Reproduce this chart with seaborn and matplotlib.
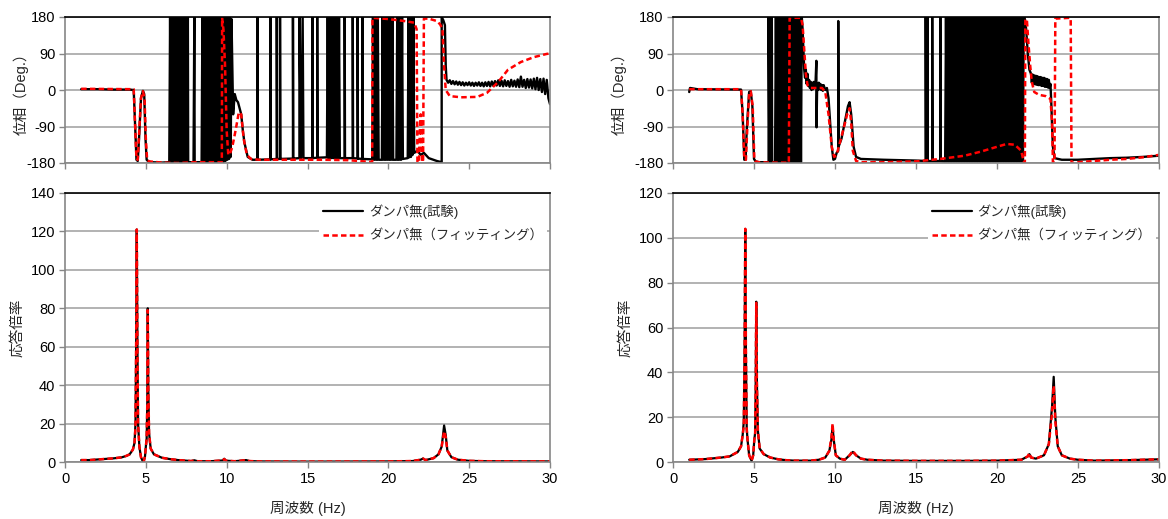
import numpy as np
import pandas as pd
import matplotlib
matplotlib.use("Agg")
import matplotlib.pyplot as plt
import seaborn as sns

# ---------------- data ----------------
# Left: phase, test (black)
L_phase_test = [
    (1.0, 2), (2.0, 2), (3.0, 1), (4.0, 1), (4.25, 0), (4.35, -100), (4.42, -172), (4.5, -175),
    (4.58, -120), (4.7, -20), (4.82, -2), (4.9, -10), (4.98, -120), (5.05, -172), (5.15, -176),
    (5.3, -178), (6.0, -179), (6.45, -178),
    (6.5, 180), (6.55, -178), (6.6, 180), (6.65, -178), (6.7, 180), (6.75, -178), (6.8, 180),
    (6.85, -178), (6.9, 180), (6.95, -178), (7.0, 180), (7.05, -178), (7.1, 180), (7.15, -178),
    (7.2, 180), (7.25, -178), (7.3, 180), (7.35, -178), (7.4, 180), (7.45, -178), (7.5, 180),
    (7.55, -178), (7.6, 180), (7.62, -178),
    (7.95, -178), (8.0, 180), (8.02, -178), (8.45, -178),
    (8.5, 180), (8.55, -178), (8.6, 180), (8.65, -178), (8.7, 180), (8.75, -178), (8.8, 180),
    (8.85, -178), (8.9, 180), (8.95, -178), (9.0, 180), (9.05, -178), (9.1, 180), (9.15, -178),
    (9.2, 180), (9.25, -178), (9.3, 180), (9.35, -178), (9.4, 180), (9.45, -178), (9.5, 180),
    (9.55, -178), (9.6, 180), (9.65, -178), (9.7, 180), (9.75, -178), (9.8, 180),
    (9.85, -176), (9.9, 180), (9.95, -174), (10.0, 180), (10.05, -172), (10.1, 180),
    (10.15, -170), (10.2, 178), (10.25, -165), (10.3, 175), (10.4, -60),
    (10.5, -10), (10.6, -25), (10.7, -30), (10.8, -45), (10.9, -60), (11.0, -100),
    (11.1, -130), (11.3, -165), (11.6, -172), (11.9, -172), (11.9, 180), (11.92, -172),
    (12.7, -171), (12.7, 180), (12.72, -171), (13.1, -170), (13.1, 180), (13.12, -170),
    (13.3, -170), (13.3, 180), (13.32, -170), (14.1, -169), (14.1, 180), (14.12, -169),
    (14.5, -168), (14.5, 180), (14.6, -168), (14.7, 180), (14.75, -168),
    (15.3, -168), (15.3, 180), (15.32, -168), (15.6, -167), (15.6, 180), (15.62, -167),
    (16.2, -166), (16.25, 180), (16.3, -168), (16.35, 180), (16.4, -168), (16.45, 180),
    (16.5, -168), (16.55, 180), (16.6, -168), (16.65, 180), (16.7, -168), (16.75, 180),
    (16.8, -168), (16.85, 180), (16.9, -168), (16.95, 180), (17.0, -168),
    (17.3, -168), (17.3, 180), (17.32, -168),
    (17.8, -168), (17.8, 180), (17.82, -168), (18.1, -169), (18.1, 180), (18.12, -169),
    (18.4, -170), (18.4, 180), (18.42, -170), (19.0, -171), (19.05, 180), (19.1, -172),
    (19.15, 180), (19.2, -172), (19.25, 180), (19.3, -172), (19.35, 180), (19.4, -172),
    (19.6, -172), (19.65, 180), (19.7, -172), (19.75, 180), (19.8, -172), (19.85, 180),
    (19.9, -172), (19.95, 180), (20.0, -172), (20.05, 180), (20.1, -172), (20.15, 180),
    (20.2, -172), (20.25, 180), (20.3, -172), (20.5, -172),
    (20.55, 180), (20.6, -172), (20.65, 180), (20.7, -172), (20.75, 180), (20.8, -172),
    (20.85, 180), (20.9, -170), (21.2, -168), (21.25, 180), (21.3, -166), (21.35, 180),
    (21.4, -165), (21.45, 180), (21.5, -160), (21.55, 180), (21.6, -155), (21.8, -150),
    (22.0, -160), (22.2, -155), (22.5, -168), (23.0, -175), (23.3, -178), (23.3, 180),
    (23.4, 172), (23.5, 160),
    (23.55, 60), (23.6, 25), (23.7, 18), (23.8, 24), (23.9, 15), (24.0, 22), (24.1, 14),
    (24.2, 21), (24.3, 13), (24.4, 20), (24.5, 12), (24.6, 19), (24.7, 11), (24.8, 18),
    (24.9, 12), (25.0, 19), (25.1, 11), (25.2, 18), (25.3, 10), (25.4, 18), (25.5, 11),
    (25.6, 19), (25.7, 10), (25.8, 18), (25.9, 9), (26.0, 19), (26.1, 10), (26.2, 20),
    (26.3, 9), (26.4, 21), (26.5, 10), (26.6, 22), (26.7, 11), (26.8, 24), (26.9, 10),
    (27.0, 23), (27.1, 9), (27.2, 24), (27.3, 10), (27.4, 22), (27.5, 8), (27.6, 25),
    (27.7, 9), (27.8, 23), (27.9, 8), (28.0, 26), (28.1, 7), (28.2, 33), (28.3, 8),
    (28.4, 25), (28.5, 5), (28.6, 27), (28.7, 6), (28.8, 26), (28.9, 4), (29.0, 28),
    (29.1, 2), (29.2, 30), (29.3, 0), (29.4, 27), (29.5, -5), (29.6, 28), (29.7, -10),
    (29.8, 25), (29.9, -20), (30.0, -35),
]
# Left: phase, fitting (red)
L_phase_fit = [
    (1.0, 3), (4.25, 2), (4.35, -100), (4.42, -170), (4.5, -172), (4.58, -110), (4.7, -20),
    (4.82, -3), (4.92, -20), (5.0, -120), (5.08, -172), (5.2, -176), (6.0, -179), (7.0, -180),
    (8.0, -178), (9.0, -178), (9.7, -178), (9.72, 178), (9.8, 150), (9.9, 60), (10.0, -100),
    (10.1, -160), (10.2, -158), (10.35, -140), (10.55, -100), (10.75, -55), (10.9, -60),
    (11.05, -120), (11.25, -160), (11.5, -170), (12.0, -172), (14.0, -172), (16.0, -172),
    (17.5, -173), (18.5, -176), (19.0, -178), (19.02, 178), (20.0, 175), (21.0, 170),
    (21.6, 166), (21.75, 150), (21.8, -178), (21.9, -178), (21.95, -100), (22.0, -60),
    (22.05, -110), (22.1, -178), (22.15, -175), (22.2, 176), (22.5, 176), (23.0, 170),
    (23.2, 162), (23.35, 150), (23.45, 60), (23.55, 0), (23.8, -15), (24.5, -18),
    (25.5, -17), (26.1, -7), (26.8, 20), (27.4, 50), (28.2, 69), (29.0, 81), (29.8, 89),
    (30.0, 90),
]
# Right: phase, test (black)
R_phase_test = [
    (1.0, -5), (1.05, 5), (1.5, 2), (4.2, 1), (4.3, -60), (4.4, -172), (4.48, -172),
    (4.55, -100), (4.7, -5), (4.8, -3), (4.9, -40), (5.0, -170), (5.1, -176), (5.3, -178),
    (5.9, -178), (5.9, 180), (5.95, -178), (6.0, 180), (6.05, -178), (6.1, 180),
    (6.12, -178), (6.3, -178),
    (6.35, 180), (6.4, -178), (6.45, 180), (6.5, -178), (6.55, 180), (6.6, -178),
    (6.65, 180), (6.7, -178), (6.75, 180), (6.8, -178), (6.85, 180), (6.9, -178),
    (6.95, 180), (7.0, -178), (7.05, 180), (7.1, -178), (7.15, 180), (7.2, -178),
    (7.25, 180), (7.3, -178), (7.35, 180), (7.4, -178), (7.45, 180), (7.5, -178),
    (7.55, 180), (7.6, -178), (7.65, 180), (7.7, -178), (7.75, 180), (7.8, -178),
    (7.85, 180), (7.9, -178), (7.95, 180), (8.0, 150),
    (8.05, 100), (8.1, 50), (8.15, 30), (8.2, 50), (8.25, 15), (8.3, 40), (8.35, 10),
    (8.4, 25), (8.45, 5), (8.5, 20), (8.55, 0), (8.6, 18), (8.65, 2), (8.7, 20), (8.75, 5),
    (8.8, 20), (8.85, 72), (8.86, -92), (8.9, 15), (8.95, 0), (9.0, 18), (9.05, 2),
    (9.1, 15), (9.15, 0), (9.2, 12), (9.25, -2), (9.3, 12), (9.4, 0), (9.5, 5), (9.6, -20),
    (9.7, -80), (9.8, -140), (9.9, -172), (10.0, -170), (10.1, -155), (10.2, -150),
    (10.2, 170), (10.22, -140), (10.4, -120), (10.6, -80), (10.8, -40), (10.9, -30),
    (11.0, -60), (11.15, -140), (11.3, -165), (11.6, -170), (13.0, -172), (15.0, -174),
    (15.6, -175), (15.6, 180), (15.62, -175), (15.7, -175), (15.7, 180), (15.72, -175),
    (16.0, -175), (16.0, 180), (16.02, -175), (16.5, -175), (16.5, 180), (16.52, -175),
    (16.8, -176), (16.85, 180), (16.9, -176), (16.95, 180), (17.0, -176), (17.05, 180),
    (17.1, -176), (17.15, 180), (17.2, -176), (17.25, 180), (17.3, -176), (17.35, 180),
    (17.4, -176), (17.45, 180), (17.5, -176), (17.55, 180), (17.6, -176), (17.65, 180),
    (17.7, -176), (17.75, 180), (17.8, -176), (17.85, 180), (17.9, -176), (17.95, 180),
    (18.0, -176), (18.05, 180), (18.1, -176), (18.15, 180), (18.2, -176), (18.25, 180),
    (18.3, -176), (18.35, 180), (18.4, -176), (18.45, 180), (18.5, -176), (18.55, 180),
    (18.6, -176), (18.65, 180), (18.7, -176), (18.75, 180), (18.8, -176), (18.85, 180),
    (18.9, -176), (18.95, 180), (19.0, -176), (19.05, 180), (19.1, -176), (19.15, 180),
    (19.2, -176), (19.25, 180), (19.3, -176), (19.35, 180), (19.4, -176), (19.45, 180),
    (19.5, -176), (19.55, 180), (19.6, -176), (19.65, 180), (19.7, -176), (19.75, 180),
    (19.8, -176), (19.85, 180), (19.9, -176), (19.95, 180), (20.0, -176), (20.05, 180),
    (20.1, -176), (20.15, 180), (20.2, -176), (20.25, 180), (20.3, -176), (20.35, 180),
    (20.4, -176), (20.45, 180), (20.5, -176), (20.55, 180), (20.6, -176), (20.65, 180),
    (20.7, -176), (20.75, 180), (20.8, -176), (20.85, 180), (20.9, -176), (20.95, 180),
    (21.0, -176), (21.05, 180), (21.1, -176), (21.15, 180), (21.2, -176), (21.25, 180),
    (21.3, -176), (21.35, 180), (21.4, -176), (21.45, 178), (21.5, -176), (21.55, 178),
    (21.6, -176), (21.65, 180), (21.7, 180), (21.8, 150), (21.9, 90), (22.0, 50),
    (22.1, 40),
    (22.15, 18), (22.2, 38), (22.25, 15), (22.3, 36), (22.35, 14), (22.4, 35), (22.45, 13),
    (22.5, 34), (22.55, 12), (22.6, 32), (22.65, 12), (22.7, 32), (22.75, 10), (22.8, 30),
    (22.85, 10), (22.9, 30), (22.95, 8), (23.0, 28), (23.05, 8), (23.1, 27), (23.15, 6),
    (23.2, 25), (23.25, 5), (23.3, 15), (23.35, -30), (23.4, -90), (23.45, -140),
    (23.55, -168), (24.0, -172), (25.0, -172), (26.0, -170), (27.0, -168), (28.0, -167),
    (29.0, -165), (30.0, -162),
]
# Right: phase, fitting (red)
R_phase_fit = [
    (1.0, 2), (4.2, 2), (4.3, -60), (4.4, -170), (4.5, -172), (4.58, -100), (4.7, -8),
    (4.8, -3), (4.92, -40), (5.02, -170), (5.1, -176), (5.3, -178), (6.0, -179),
    (7.15, -179), (7.2, 178), (7.9, 178), (8.0, 160), (8.1, 100), (8.2, 40), (8.3, 12),
    (8.5, 5), (9.2, 5), (9.4, -5), (9.6, -60), (9.8, -140), (9.95, -165), (10.1, -160),
    (10.3, -130), (10.5, -100), (10.75, -60), (10.9, -45), (11.0, -80), (11.1, -150),
    (11.3, -175), (11.6, -178), (13.0, -178), (15.0, -176), (16.5, -170), (18.0, -162),
    (19.0, -152), (20.0, -140), (20.6, -133), (21.1, -135), (21.5, -150), (21.65, -178),
    (21.72, -180), (21.75, 175), (21.85, 170), (21.95, 110), (22.05, 60), (22.15, 20),
    (22.3, -5), (22.6, -12), (23.0, -15), (23.3, -22), (23.4, -80), (23.45, -178),
    (23.55, -178), (23.6, 176), (24.5, 178), (24.55, 175), (24.6, -180), (25.0, -178),
    (26.0, -175), (27.0, -172), (28.0, -170), (29.0, -166), (30.0, -160),
]
# Left: response ratio
L_amp_test = [
    (1.0, 1.0), (1.5, 1.0), (2.0, 1.3), (2.5, 1.6), (3.0, 1.9), (3.5, 2.4), (3.8, 3.2),
    (4.0, 4.0), (4.2, 6.5), (4.3, 10), (4.36, 20), (4.4, 60), (4.44, 121), (4.48, 60),
    (4.52, 20), (4.56, 14), (4.6, 8), (4.7, 2.5), (4.8, 0.6), (4.87, 0.3), (4.95, 3),
    (5.0, 8), (5.05, 12), (5.09, 30), (5.12, 80), (5.15, 40), (5.2, 15), (5.3, 7), (5.5, 4),
    (6.0, 2.2), (6.5, 1.5), (7.0, 1.0), (7.8, 0.5), (8.0, 0.9), (8.2, 0.4), (9.0, 0.4),
    (9.75, 0.8), (9.85, 1.7), (9.95, 0.7), (10.5, 0.4), (11.0, 0.8), (11.2, 1.0),
    (11.4, 0.5), (12.0, 0.3), (15.0, 0.2), (20.0, 0.3), (21.5, 0.5), (22.0, 1.2),
    (22.15, 1.8), (22.3, 1.0), (22.8, 2.0), (23.1, 4), (23.3, 8), (23.45, 19), (23.55, 14),
    (23.65, 6), (23.9, 2.5), (24.3, 1.2), (25.0, 0.6), (26.0, 0.4), (30.0, 0.3),
]
L_amp_fit = [
    (1.0, 1.0), (1.5, 1.0), (2.0, 1.3), (2.5, 1.6), (3.0, 1.9), (3.5, 2.4), (3.8, 3.2),
    (4.0, 4.0), (4.2, 6.5), (4.3, 10), (4.36, 18), (4.4, 60), (4.44, 121), (4.48, 60),
    (4.52, 20), (4.56, 14), (4.6, 8), (4.7, 2.5), (4.8, 0.6), (4.87, 0.3), (4.95, 3),
    (5.0, 8), (5.05, 12), (5.09, 30), (5.12, 79), (5.15, 40), (5.2, 15), (5.3, 7), (5.5, 4),
    (6.0, 2.2), (6.5, 1.5), (7.0, 1.0), (7.8, 0.5), (8.0, 0.8), (8.2, 0.4), (9.0, 0.4),
    (9.75, 0.8), (9.85, 1.5), (9.95, 0.7), (10.5, 0.4), (11.0, 0.8), (11.2, 1.0),
    (11.4, 0.5), (12.0, 0.3), (15.0, 0.2), (20.0, 0.3), (21.5, 0.5), (22.0, 1.2),
    (22.15, 1.8), (22.3, 1.0), (22.8, 2.0), (23.1, 4), (23.3, 8), (23.45, 16), (23.55, 13),
    (23.65, 6), (23.9, 2.5), (24.3, 1.2), (25.0, 0.6), (26.0, 0.4), (30.0, 0.3),
]
# Right: response ratio
R_amp_test = [
    (1.0, 1.0), (2.0, 1.3), (3.0, 2.0), (3.5, 2.5), (4.0, 4.5), (4.2, 7), (4.3, 12),
    (4.37, 18), (4.42, 50), (4.46, 104), (4.5, 50), (4.55, 15), (4.6, 10), (4.7, 3),
    (4.85, 0.5), (4.95, 3), (5.02, 10), (5.07, 13), (5.1, 30), (5.14, 71.5), (5.18, 35),
    (5.24, 14), (5.35, 6), (5.6, 3.5), (6.0, 2.0), (6.5, 1.2), (7.0, 0.8), (7.5, 0.6),
    (8.5, 0.6), (9.0, 1.0), (9.4, 2.0), (9.65, 5), (9.78, 10), (9.85, 16), (9.92, 10),
    (10.05, 3), (10.3, 1.5), (10.6, 1.0), (10.9, 3), (11.1, 4.5), (11.3, 3), (11.6, 1.5),
    (12.0, 1.0), (13.0, 0.6), (15.0, 0.5), (18.0, 0.5), (20.0, 0.6), (21.5, 1.0),
    (21.9, 2.5), (22.0, 3.5), (22.1, 2.0), (22.4, 1.5), (22.9, 3), (23.2, 8), (23.4, 25),
    (23.5, 38), (23.6, 20), (23.75, 7), (24.0, 3), (24.5, 1.5), (25.0, 1.0), (26.0, 0.6),
    (28.0, 0.8), (30.0, 1.2),
]
R_amp_fit = [
    (1.0, 1.0), (2.0, 1.3), (3.0, 2.0), (3.5, 2.5), (4.0, 4.5), (4.2, 7), (4.3, 12),
    (4.37, 16), (4.42, 50), (4.46, 104), (4.5, 50), (4.55, 15), (4.6, 10), (4.7, 3),
    (4.85, 0.5), (4.95, 3), (5.02, 10), (5.07, 12), (5.1, 30), (5.14, 71), (5.18, 35),
    (5.24, 14), (5.35, 6), (5.6, 3.5), (6.0, 2.0), (6.5, 1.2), (7.0, 0.8), (7.5, 0.6),
    (8.5, 0.6), (9.0, 1.0), (9.4, 2.0), (9.65, 5), (9.78, 11), (9.85, 17), (9.92, 10),
    (10.05, 3), (10.3, 1.5), (10.6, 1.0), (10.9, 3), (11.1, 5), (11.3, 3), (11.6, 1.5),
    (12.0, 1.0), (13.0, 0.6), (15.0, 0.5), (18.0, 0.5), (20.0, 0.6), (21.5, 1.0),
    (21.9, 2.5), (22.0, 4.0), (22.1, 2.0), (22.4, 1.5), (22.9, 3), (23.2, 8), (23.4, 22),
    (23.5, 34), (23.6, 18), (23.75, 7), (24.0, 3), (24.5, 1.5), (25.0, 1.0), (26.0, 0.6),
    (28.0, 0.8), (30.0, 1.2),
]

legend_labels = ["ダンパ無(試験)", "ダンパ無（フィッティング）"]
phase_ticks = [-180, -90, 0, 90, 180]
freq_ticks = [0, 5, 10, 15, 20, 25, 30]
amp_ticks_left = [0, 20, 40, 60, 80, 100, 120, 140]
amp_ticks_right = [0, 20, 40, 60, 80, 100, 120]
phase_label = "位相（Deg.）"
amp_label = "応答倍率"
freq_label = "周波数 (Hz)"

# ---------------- styling ----------------
sns.set_theme(style="white")
plt.rcParams["font.family"] = ["Liberation Sans", "Noto Sans CJK JP", "DejaVu Sans"]
plt.rcParams["axes.unicode_minus"] = False
plt.rcParams["path.simplify"] = False

W, H = 1168, 519
fig = plt.figure(figsize=(W / 100, H / 100), dpi=100)

def ax_at(x0, y0, x1, y1):
    return fig.add_axes([x0 / W, 1 - y1 / H, (x1 - x0) / W, (y1 - y0) / H])

GRID = "#a6a6a6"
SPINE = "#868686"
RED_DASH = (2.2, 1.3)

def df_of(pairs):
    return pd.DataFrame(pairs, columns=["f", "v"])

def draw(ax, test, fit, blk_lw, red_lw):
    sns.lineplot(data=df_of(test), x="f", y="v", ax=ax, color="black", lw=blk_lw,
                 estimator=None, sort=False, label=legend_labels[0])
    sns.lineplot(data=df_of(fit), x="f", y="v", ax=ax, color="#ff0000", lw=red_lw,
                 estimator=None, sort=False, label=legend_labels[1])
    lines = ax.get_lines()
    lines[-1].set_dashes(RED_DASH)
    lines[-1].set_dash_capstyle("butt")
    return lines[-2], lines[-1]

def style(ax, yt, ylim, show_x):
    ax.set_xlim(0, 30)
    ax.set_ylim(*ylim)
    ax.set_xticks(freq_ticks)
    ax.set_yticks(yt)
    ax.set_yticklabels([str(t) for t in yt])
    if show_x:
        ax.set_xticklabels([str(t) for t in freq_ticks])
    else:
        ax.set_xticklabels([])
    ax.yaxis.grid(True, color=GRID, lw=1.2)
    ax.xaxis.grid(False)
    ax.set_axisbelow(True)
    for s in ["left", "bottom", "right"]:
        ax.spines[s].set_color(SPINE)
        ax.spines[s].set_linewidth(1.2)
    ax.spines["top"].set_color("black")
    ax.spines["top"].set_linewidth(1.2)
    ax.tick_params(axis="both", which="both", direction="out", length=4, width=1,
                   color=SPINE, labelsize=10.5, labelcolor="black", pad=3,
                   bottom=True, left=True, top=False, right=False)
    ax.set_xlabel("")
    ax.set_ylabel("")

configs = [
    (65, 550, L_phase_test, L_phase_fit, L_amp_test, L_amp_fit, amp_ticks_left, (0, 140), -0.074, -0.085),
    (673, 1159, R_phase_test, R_phase_fit, R_amp_test, R_amp_fit, amp_ticks_right, (0, 120), -0.095, -0.084),
]

for x0, x1, pt, pf, at, af, aticks, alim, ylab_top, ylab_bot in configs:
    axp = ax_at(x0, 17, x1, 163)
    draw(axp, pt, pf, 1.7, 1.8)
    axp.get_legend().remove()
    style(axp, phase_ticks, (-180, 180), False)
    axp.set_ylabel(phase_label, fontsize=10.5)
    axp.yaxis.set_label_coords(ylab_top, 0.5)

    axa = ax_at(x0, 193, x1, 462)
    hb, hr = draw(axa, at, af, 1.6, 1.8)
    axa.get_legend().remove()
    style(axa, aticks, alim, True)
    axa.set_ylabel(amp_label, fontsize=10.5)
    axa.yaxis.set_label_coords(ylab_bot, 0.5)
    axa.set_xlabel(freq_label, fontsize=10.5)
    axa.xaxis.set_label_coords(0.5, -0.145)
    leg = axa.legend(handles=[hb, hr], labels=legend_labels, loc="upper left",
                     bbox_to_anchor=(0.524, 0.972), frameon=True, fontsize=9.6,
                     handlelength=3.0, handletextpad=0.45, labelspacing=0.75,
                     borderpad=0.3, borderaxespad=0.0, fancybox=False)
    leg.get_frame().set_facecolor("white")
    leg.get_frame().set_edgecolor("none")
    leg.get_frame().set_alpha(1.0)

fig.savefig("out.png", dpi=100)
